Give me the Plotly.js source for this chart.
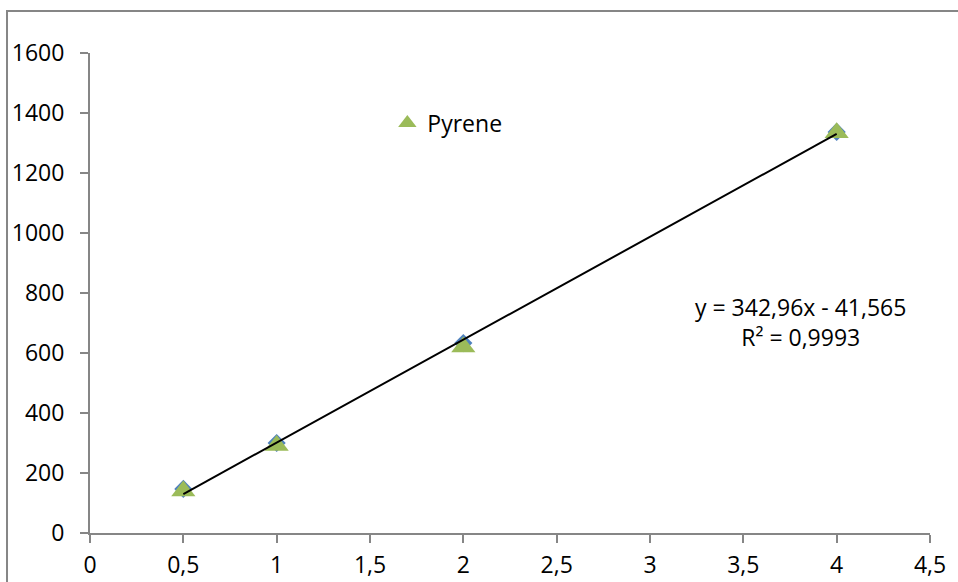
<!DOCTYPE html>
<html>
<head>
<meta charset="utf-8">
<script src="https://cdn.plot.ly/plotly-3.0.1.min.js"></script>
<style>html,body{margin:0;padding:0;background:#fff;}#chart{width:958px;height:582px;}</style>
</head>
<body>
<div id="chart"></div>
<script>
// Data
const concentrations = [0.5, 1, 2, 4];
const seriesDiamond = [147, 300, 633, 1337];
const seriesPyrene = [140, 292, 620, 1334];
const trendSlope = 342.96;
const trendIntercept = -41.565;
const trendR2 = 0.9993;
const xTicks = [0, 0.5, 1, 1.5, 2, 2.5, 3, 3.5, 4, 4.5];
const xTickLabels = ['0', '0,5', '1', '1,5', '2', '2,5', '3', '3,5', '4', '4,5'];
const yTicks = [0, 200, 400, 600, 800, 1000, 1200, 1400, 1600];

const trendX = [concentrations[0], concentrations[concentrations.length - 1]];
const trendY = trendX.map(x => trendSlope * x + trendIntercept);

const fmt = (v) => String(Math.abs(v)).replace('.', ',');
const eqText = 'y = ' + fmt(trendSlope) + 'x ' + (trendIntercept < 0 ? '- ' : '+ ') + fmt(trendIntercept) +
  '<br>R² = ' + fmt(trendR2);

const FONT = '"Open Sans", "Noto Sans", sans-serif';

const traces = [
  {
    x: concentrations, y: seriesDiamond, type: 'scatter', mode: 'markers',
    marker: {symbol: 'diamond', size: 14, color: '#4F81BD'},
    showlegend: false, hoverinfo: 'skip'
  },
  {
    x: concentrations, y: seriesPyrene, type: 'scatter', mode: 'markers', name: 'Pyrene',
    marker: {symbol: 'triangle-up', size: 21, color: '#9BBB59'}
  },
  {
    x: trendX, y: trendY, type: 'scatter', mode: 'lines',
    line: {color: '#000000', width: 2}, showlegend: false, hoverinfo: 'skip'
  }
];

const axisCommon = {
  showgrid: false, zeroline: false, showline: true,
  linecolor: '#868686', linewidth: 2,
  ticks: 'outside', ticklen: 8, tickwidth: 2, tickcolor: '#868686',
  tickfont: {family: FONT, size: 23, color: '#000000'}
};

const layout = {
  width: 958, height: 582,
  margin: {l: 90, r: 28, t: 53, b: 49},
  paper_bgcolor: '#ffffff', plot_bgcolor: '#ffffff',
  separators: ', ',
  font: {family: FONT, size: 23, color: '#000000'},
  xaxis: Object.assign({}, axisCommon, {
    range: [0, 4.5], tickmode: 'array', tickvals: xTicks, ticktext: xTickLabels,
    ticklabelstandoff: 2
  }),
  yaxis: Object.assign({}, axisCommon, {
    range: [0, 1600], tickmode: 'array', tickvals: yTicks,
    ticklabelstandoff: 11
  }),
  showlegend: true,
  legend: {
    x: 0.354, y: 0.854, xanchor: 'left', yanchor: 'middle',
    bgcolor: 'rgba(0,0,0,0)', font: {family: FONT, size: 23, color: '#000000'},
    itemwidth: 30
  },
  annotations: [{
    xref: 'paper', yref: 'paper', x: 0.846, y: 0.44, xanchor: 'center', yanchor: 'middle',
    text: eqText, showarrow: false, align: 'center',
    font: {family: FONT, size: 23, color: '#000000'}
  }],
  shapes: [{
    type: 'path', xref: 'paper', yref: 'paper',
    path: 'M -0.0988,-0.2 L -0.0988,1.0875 L 1.1,1.0875',
    line: {color: '#868686', width: 2}
  }]
};

Plotly.newPlot('chart', traces, layout, {displayModeBar: false, staticPlot: true});
</script>
</body>
</html>
